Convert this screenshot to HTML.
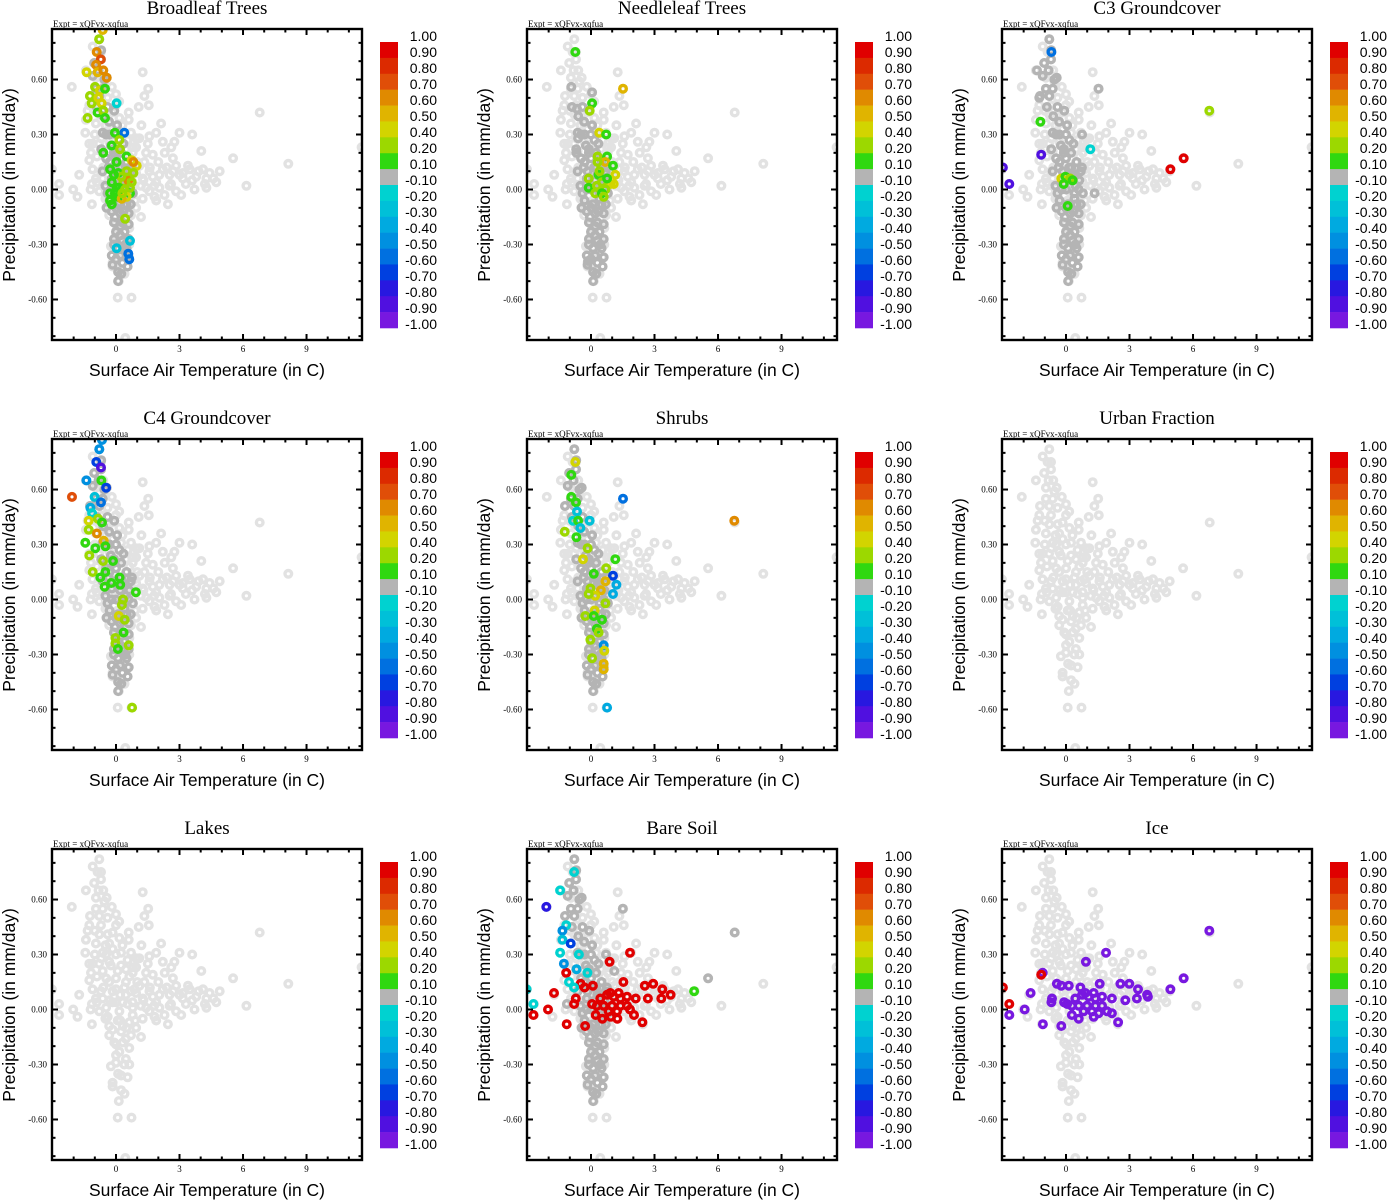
<!DOCTYPE html>
<html><head><meta charset="utf-8"><style>
html,body{margin:0;padding:0;background:#fff;}
svg{display:block;}
</style></head><body>
<svg id="chart" width="1388" height="1200" xmlns="http://www.w3.org/2000/svg"></svg>
<script>
const panelTitles = ["Broadleaf Trees","Needleleaf Trees","C3 Groundcover","C4 Groundcover","Shrubs","Urban Fraction","Lakes","Bare Soil","Ice"];
const xTicks = [0,3,6,9];
const yTicks = [0.6,0.3,0,-0.3,-0.6];
const yTickLabels = ["0.60","0.30","0.00","-0.30","-0.60"];
const cbLevels = [1,0.9,0.8,0.7,0.6,0.5,0.4,0.2,0.1,-0.1,-0.2,-0.3,-0.4,-0.5,-0.6,-0.7,-0.8,-0.9,-1];
const cbLabels = ["1.00","0.90","0.80","0.70","0.60","0.50","0.40","0.20","0.10","-0.10","-0.20","-0.30","-0.40","-0.50","-0.60","-0.70","-0.80","-0.90","-1.00"];
const cbColors = ["#e00000","#dc2a00","#e04e08","#e08a00","#e0b400","#d2d400","#9cd800","#30d810","#b4b4b4","#00d2d0","#00c0d8","#00aae0","#0090e0","#0070e0","#0040e0","#2818e0","#5010e0","#7818e0"];

// base cloud (all panels, light grey)
const baseT = [-0.79,-0.87,-0.71,-1.03,-0.71,-1.42,-0.82,-0.44,1.26,-2.09,-0.95,-0.63,1.52,-1.23,-0.79,0,1.34,-1.26,-0.71,0,1.07,1.55,-1.34,-1.42,-0.95,-0.32,2.13,-1.45,-0.63,0.24,0.71,1.58,1.9,3.0,3.6,-1.26,-0.32,0.55,0.95,2.21,2.76,2.61,4.03,-1.18,-0.63,0.08,0.79,1.42,-1.26,-1.11,-0.32,0.47,1.11,2.69,5.53,6.79,8.14,6.16,11.6,-3.03,-1.74,-2.69,-2.69,-2.02,-1.82,-1.14,-1.14,-0.71,-0.16,0.47,0.95,1.58,2.21,2.84,3.48,4.11,4.9,4.74,4.27,3.71,3.16,2.53,1.9,1.42,0.79,0,-0.47,0.16,0.79,1.26,1.82,2.45,2.84,3.08,-0.32,0.32,0.95,1.18,-0.32,0.47,0,0.63,0,0.47,-0.24,0.63,0.24,0.55,-0.16,-0.16,0.24,0.13,0.08,0.73,0.44,-0.47,0,-0.24,0.24,-0.47,0,0.63,-0.63,-0.16,0.32,0.79,1.26,1.74,2.05,-0.39,0.08,0.63,-0.16,0.24,0.71,-0.08,0.32,0.16,0.39,0,2.05,2.53,3.16,3.79,4.27,4.42,1.18,1.58,2.29,-0.95,-0.79,0,0.87,1.34,1.74,0.47,0.95,-0.16,-0.79,-0.39,-0.55,-0.95,-0.16,0.16,
 -1.0,-0.8,-0.9,-0.6,-0.3,0.4,0.7,1.0,1.3,1.6,2.0,2.4,2.7,3.0,3.3,3.6,3.9,4.2,0.2,0.5,0.9,-0.5,-0.9,-1.2,0.3,0.6,-0.4,-0.2,-1.0,-1.1,0.1,0.4,1.1,1.5,2.3,1.9,-0.6,-1.1,0.8,0.2,-0.5,0.6,1.2,1.8,2.6,3.4,4.6,-0.7,0.15,0.55];
const baseP = [0.82,0.75,0.75,0.69,0.71,0.65,0.65,0.61,0.64,0.56,0.55,0.55,0.55,0.51,0.51,0.52,0.51,0.46,0.46,0.46,0.45,0.46,0.43,0.38,0.36,0.36,0.36,0.31,0.31,0.31,0.31,0.29,0.31,0.31,0.30,0.25,0.26,0.27,0.28,0.26,0.26,0.23,0.21,0.20,0.21,0.21,0.20,0.20,0.16,0.11,0.15,0.15,0.13,0.17,0.17,0.42,0.14,0.02,0.23,0.11,0.08,0.03,-0.03,0.0,-0.04,0.03,-0.08,0.10,0.10,0.08,0.09,0.10,0.11,0.13,0.11,0.11,0.10,0.04,0.01,0.0,0.06,0.02,0.04,0.01,0.04,0.04,0.01,-0.01,-0.03,-0.05,-0.04,-0.08,-0.01,-0.03,-0.09,-0.09,-0.10,-0.15,-0.14,-0.16,-0.19,-0.21,-0.25,-0.27,-0.31,-0.30,-0.36,-0.37,-0.40,-0.42,-0.44,-0.50,-0.59,-0.59,-0.81,0.30,0.30,0.24,0.24,0.17,0.17,0.18,0.06,0.04,0.04,0.01,0.06,0.07,0.01,-0.04,-0.06,-0.07,-0.11,-0.12,-0.14,-0.18,-0.18,-0.23,-0.30,-0.29,0.08,0.08,0.09,0.07,0.06,0.09,0.02,-0.01,-0.03,0.06,-0.01,0.11,0.11,0.15,0.19,0.22,0.23,0.33,0.41,0.41,0.59,0.61,0.42,0.39,
 0.3,0.25,0.18,0.12,0.05,0.12,0.1,0.15,0.05,0.12,0.15,0.12,0.1,0.08,0.03,0.05,0.1,0.03,-0.06,-0.1,-0.06,-0.05,0.04,0.0,0.35,0.38,0.5,0.56,0.43,0.25,-0.35,-0.46,0.28,0.25,0.2,-0.06,0.65,0.78,0.23,0.08,0.35,0.42,0.35,0.02,0.03,0.13,0.06,0.28,0.48,0.03];

// dark-grey spine (value ~0) shared by vegetated panels
const spineHighT = [-0.79,-0.71,-1.03,-0.82,-0.44,-0.95,-0.63,-1.23,-0.79,-0.55,-1.1,-0.7];
const spineHighP = [0.82,0.71,0.69,0.65,0.61,0.55,0.55,0.51,0.51,0.6,0.62,0.76];
const spineLowT = [-0.08,-0.32,-0.63,-0.47,-0.24,0,0.16,-0.47,0,0.24,0.5,-0.63,-0.16,0.3,0.63,-0.5,0,0.4,0.8,-0.3,0.1,0.5,-0.2,0.2,0.6,-0.1,0.3,0.6,0,0.4,-0.1,0.3,0.6,0.1,0.5,-0.2,0.2,0.6,-0.16,0.3,0.1,0.55,0.1,-0.35,-0.1,0.25,0.45,0.7,-0.4,0.05,
 -0.4,-0.6,-0.3,-0.7,-0.3,0.2,-0.2,0.6,0.0,0.35,-0.1,0.2,0.45,0.25,-0.9,-0.1,0.35,-0.45,-0.2,0.15,0.45,0.75,-0.05,0.4,0.7,0.0,0.2];
const spineLowP = [0.43,0.37,0.31,0.30,0.24,0.30,0.27,0.17,0.17,0.20,0.15,0.10,0.10,0.08,0.05,0.02,0.0,-0.02,-0.02,-0.06,-0.08,-0.08,-0.12,-0.13,-0.13,-0.18,-0.18,-0.19,-0.23,-0.23,-0.27,-0.28,-0.27,-0.32,-0.32,-0.36,-0.36,-0.37,-0.41,-0.40,-0.45,-0.42,-0.50,0.12,0.22,0.12,0.02,0.10,-0.02,0.35,
 0.45,0.4,0.3,0.22,0.15,0.05,0.0,0.0,-0.1,-0.12,-0.3,-0.2,-0.3,-0.46,0.45,0.2,0.25,-0.1,0.06,0.12,0.08,0.12,-0.15,-0.05,-0.08,-0.38,-0.25];

// per-panel coloured values: [temperature, precipitation, correlation]
const broadleafPts = [[-0.63,0.87,0.55],[-0.8,0.82,0.3],[-0.91,0.75,0.65],[-0.72,0.71,0.75],[-0.94,0.68,0.65],[-1.39,0.64,0.45],[-0.87,0.64,0.55],[-0.6,0.65,0.65],[-0.44,0.61,0.65],[-0.99,0.56,0.25],[-0.76,0.54,0.45],[-0.52,0.55,0.15],[-1.23,0.51,0.25],[-1.15,0.47,0.25],[-0.83,0.5,0.45],[-0.68,0.47,0.45],[0.03,0.47,-0.15],[-0.87,0.42,0.15],[-0.6,0.43,0.25],[-1.34,0.39,0.25],[-0.52,0.39,0.15],[0.39,0.31,-0.55],[-0.05,0.31,0.15],[-0.2,0.24,0.15],[0.16,0.27,0.25],[0.19,0.22,0.25],[-0.6,0.2,0.15],[0.5,0.18,0.15],[0.03,0.15,0.15],[0.74,0.16,0.45],[0.98,0.13,0.45],[0.82,0.15,0.65],[-0.28,0.11,0.15],[0.11,0.09,0.15],[0.35,0.04,0.25],[0.58,0.05,0.65],[0.13,0.01,0.15],[0.03,0.01,0.15],[0.19,-0.01,0.15],[-0.05,-0.02,0.15],[0.43,0.0,0.25],[0.66,-0.02,0.15],[-0.28,-0.06,0.15],[0.11,-0.04,0.15],[0.66,0.01,0.25],[0.82,0.09,0.25],[0.74,0.04,0.25],[-0.2,0.04,0.15],[-0.28,-0.02,0.15],[0.5,-0.04,0.45],[0.27,-0.05,0.55],[-0.2,-0.08,0.15],[0.43,-0.16,0.25],[0.03,-0.32,-0.25],[0.66,-0.28,-0.25],[0.58,-0.35,-0.55],[0.63,-0.38,-0.6],[0.25,0.07,0.25],[0.5,0.1,0.25],[-0.1,0.08,0.15],[0.3,-0.02,0.25]];
const needleleafPts = [[-0.93,0.56,0],[0.05,0.53,0],[-0.66,0.44,0],[-0.61,0.28,0],[-0.69,0.2,0],[-0.14,-0.39,0],[-0.74,0.75,0.15],[1.51,0.55,0.55],[0.05,0.47,0.15],[-0.06,0.43,0.25],[0.39,0.31,0.45],[0.72,0.3,0.15],[0.31,0.18,0.25],[0.76,0.18,0.15],[0.68,0.15,0.5],[1.04,0.13,0.15],[0.31,0.15,0.25],[-0.11,0.06,0.25],[-0.11,0.01,0.15],[0.36,0.08,0.15],[1.15,0.08,0.45],[0.91,0.03,0.45],[1.07,0.03,0.45],[0.28,0.02,0.25],[0.52,0.04,0.25],[0.68,0.0,0.25],[0.2,-0.02,0.25],[0.52,-0.02,0.15],[0.76,0.06,0.15],[0.4,0.1,0.25],[0.6,-0.04,0.25]];
const c3Pts = [[1.54,0.55,0],[0.76,0.3,0],[1.35,-0.02,0],[-1.37,0.65,0],[-1.26,0.5,0],[-0.69,0.75,-0.55],[-1.21,0.37,0.15],[-1.17,0.19,-0.85],[-2.98,0.12,-0.85],[-2.68,0.03,-0.85],[1.15,0.22,-0.15],[4.93,0.11,0.95],[5.56,0.17,0.95],[6.77,0.43,0.25],[-0.22,0.06,0.45],[-0.03,0.07,0.15],[0.2,0.06,0.25],[-0.11,0.03,0.15],[0.31,0.05,0.15],[0.08,-0.09,0.15]];
const c4Pts = [[-0.66,0.87,-0.45],[-0.79,0.82,-0.45],[-0.93,0.75,-0.65],[-0.71,0.72,-0.85],[-1.4,0.65,-0.45],[-0.69,0.65,0.15],[-0.47,0.61,-0.65],[-2.08,0.56,0.75],[-1.01,0.56,-0.25],[-0.71,0.53,-0.55],[-1.21,0.5,-0.35],[-1.13,0.47,-0.15],[-1.29,0.43,0.45],[-0.85,0.44,0.25],[-0.66,0.42,0.15],[-1.29,0.38,0.25],[-0.9,0.36,0.6],[-0.58,0.32,0.5],[-1.45,0.31,0.15],[-0.98,0.28,0.15],[-0.5,0.29,0.15],[-1.26,0.24,0.25],[-0.61,0.21,0.25],[-0.14,0.21,0.15],[-1.1,0.15,0.25],[-0.74,0.12,0.15],[-0.5,0.15,0.15],[-0.22,0.09,0.15],[-0.54,0.07,0.15],[0.17,0.12,0.15],[0.2,0.08,0.15],[0.94,0.04,0.15],[0.33,0.0,0.25],[0.28,-0.03,0.25],[0.13,-0.09,0.45],[0.41,-0.11,0.25],[0.36,-0.18,0.15],[-0.03,-0.21,0.25],[-0.03,-0.24,0.25],[0.09,-0.27,0.15],[0.6,-0.25,0.25],[0.76,-0.59,0.25]];
const shrubsPts = [[-0.74,0.75,0.45],[-0.93,0.68,0.15],[1.51,0.55,-0.55],[-0.93,0.56,0.15],[-0.71,0.53,0.15],[-0.66,0.48,-0.25],[-0.85,0.43,-0.2],[-0.61,0.43,0.15],[-0.06,0.43,-0.25],[-0.5,0.39,-0.25],[-1.24,0.37,0.25],[-0.69,0.34,0.15],[-0.16,0.28,0.25],[-0.38,0.22,0.45],[1.15,0.22,0.15],[0.72,0.17,0.25],[1.04,0.13,-0.65],[0.13,0.14,0.15],[0.68,0.1,0.5],[1.2,0.08,-0.35],[0.47,0.05,0.55],[-0.03,0.06,0.25],[0.2,0.02,0.45],[-0.11,0.03,0.25],[1.04,0.03,-0.35],[0.68,-0.02,0.25],[0.17,-0.06,0.45],[-0.27,-0.09,0.25],[0.13,-0.09,0.15],[0.52,-0.11,0.15],[0.28,-0.16,0.15],[0.36,-0.18,0.25],[-0.03,-0.22,0.25],[0.6,-0.25,-0.45],[0.63,-0.28,0.45],[0.05,-0.32,0.25],[0.6,-0.35,0.5],[0.6,-0.38,0.5],[0.76,-0.59,-0.35],[6.77,0.43,0.6]];
const urbanPts = [];
const lakesPts = [];
const bareSoilPts = [[1.5,0.55,0],[6.79,0.42,0],[5.53,0.17,0],[1.1,0.21,0],[0.71,0.3,0],[-1.14,0.03,0],[1.84,0.31,0.95],[0.88,0.26,0.95],[-1.17,0.2,0.95],[-0.49,0.14,0.95],[-0.3,0.12,0.95],[0.09,0.13,0.95],[1.53,0.15,0.95],[2.54,0.13,0.95],[2.94,0.14,0.95],[3.37,0.11,0.95],[3.76,0.08,0.95],[3.32,0.06,0.95],[2.69,0.06,0.95],[2.11,0.06,0.95],[-1.75,0.09,0.95],[-0.72,0.06,0.95],[-0.8,0.03,0.95],[-2.03,0.0,0.95],[-2.72,-0.03,0.95],[-1.15,-0.08,0.95],[-0.28,-0.09,0.95],[0.22,-0.03,0.95],[0.54,-0.05,0.95],[0.93,-0.04,0.95],[1.24,-0.05,0.95],[1.84,0.0,0.95],[2.03,-0.03,0.95],[2.43,-0.07,0.95],[0.44,0.06,0.95],[0.76,0.08,0.95],[1.07,0.07,0.95],[1.39,0.06,0.95],[1.7,0.07,0.95],[0.6,0.02,0.95],[0.99,0.02,0.95],[1.39,0.02,0.95],[1.7,0.02,0.95],[0.83,-0.01,0.95],[1.23,-0.01,0.95],[0.28,0.02,0.95],[0.05,0.03,0.95],[0.91,0.09,0.95],[1.31,0.09,0.95],[-0.8,0.75,-0.15],[-1.46,0.65,-0.15],[-2.11,0.56,-0.75],[-1.17,0.46,-0.15],[-1.35,0.43,-0.5],[-1.35,0.38,-0.25],[-0.96,0.36,-0.7],[-1.46,0.31,-0.15],[-1.28,0.25,-0.45],[-0.57,0.3,-0.15],[-0.68,0.22,-0.35],[-1.04,0.15,-0.15],[-0.8,0.12,-0.15],[-3.04,0.11,-0.15],[-2.72,0.03,-0.15],[-0.17,0.2,-0.15],[4.87,0.1,0.15]];
const icePts = [[-1.1,0.2,-0.95],[-2.68,-0.03,-0.95],[-1.95,0.0,-0.95],[-1.67,0.09,-0.95],[-1.09,-0.08,-0.95],[-0.69,0.04,-0.95],[-0.66,0.06,-0.95],[-0.43,0.14,-0.95],[-0.22,0.13,-0.95],[0.13,0.13,-0.95],[-0.22,-0.09,-0.95],[-0.09,0.04,-0.95],[0.28,-0.03,-0.95],[0.68,0.12,-0.95],[0.94,0.26,-0.95],[1.89,0.31,-0.95],[1.59,0.14,-0.95],[0.6,-0.05,-0.95],[1.31,-0.04,-0.95],[1.54,-0.02,-0.95],[1.94,-0.01,-0.95],[2.17,-0.02,-0.95],[2.46,-0.07,-0.95],[2.17,0.06,-0.95],[2.8,0.05,-0.95],[2.57,0.14,-0.95],[2.99,0.14,-0.95],[3.4,0.11,-0.95],[3.35,0.06,-0.95],[3.83,0.08,-0.95],[3.87,0.07,-0.95],[4.93,0.11,-0.95],[5.56,0.17,-0.95],[6.77,0.43,-0.95],[0.44,0.06,-0.95],[0.76,0.08,-0.95],[1.07,0.07,-0.95],[1.39,0.06,-0.95],[1.7,0.07,-0.95],[0.6,0.02,-0.95],[0.99,0.02,-0.95],[1.39,0.02,-0.95],[1.7,0.02,-0.95],[0.83,-0.01,-0.95],[1.23,-0.01,-0.95],[0.28,0.02,-0.95],[0.05,0.03,-0.95],[0.91,0.09,-0.95],[1.31,0.09,-0.95],[-1.17,0.19,0.95],[-2.98,0.12,0.95],[-2.68,0.03,0.95]];

const panelPts = [broadleafPts,needleleafPts,c3Pts,c4Pts,shrubsPts,urbanPts,lakesPts,bareSoilPts,icePts];
const panelSpineHigh = [true,false,true,true,true,false,false,true,false];
const panelSpineLow = [true,true,true,true,true,false,false,true,false];

const NS = "http://www.w3.org/2000/svg";
const svg = document.getElementById("chart");
function mk(tag, attrs, parent){
  const e = document.createElementNS(NS, tag);
  for (const k in attrs) e.setAttribute(k, attrs[k]);
  (parent||svg).appendChild(e);
  return e;
}
const PL = 52, PT = 29, PW = 310, PH = 311;
const X0 = 64, XS = 21.17, Y0 = 160.5, YS = 183.3;
function sx(t){ return PL + X0 + t*XS; }
function sy(p){ return PT + Y0 - p*YS; }
function colorFor(v){
  for (let i=0;i<cbColors.length;i++){ if (v >= cbLevels[i+1]) return cbColors[i]; }
  return cbColors[cbColors.length-1];
}
const defs = mk("defs",{});
const cp = mk("clipPath",{id:"plotclip"},defs);
mk("rect",{x:PL,y:PT,width:PW,height:PH},cp);

function dot(g, t, p, col){
  const c = mk("circle",{cx:sx(t).toFixed(1),cy:sy(p).toFixed(1),r:3.3,fill:"none",stroke:col,"stroke-width":3.4},g);
  
  
}

for (let k=0;k<9;k++){
  const col = k%3, row = Math.floor(k/3);
  const g = mk("g",{transform:`translate(${col*475},${row*410})`});
  
  

  const title = mk("text",{x:PL+PW/2,y:14,"text-anchor":"middle","font-family":"Liberation Serif, serif","font-size":19},g);
  title.textContent = panelTitles[k];
  
  

  const ex = mk("text",{x:53,y:27,"font-family":"Liberation Serif, serif","font-size":9},g);
  ex.textContent = "Expt = xQFvx-xqfua";
  
  

  const pts = mk("g",{"clip-path":"url(#plotclip)"},g);
  
  
  for (let i=0;i<baseT.length;i++) dot(pts, baseT[i], baseP[i], "#e2e2e2");
  if (panelSpineHigh[k]) for (let i=0;i<spineHighT.length;i++) dot(pts, spineHighT[i], spineHighP[i], "#b4b4b4");
  if (panelSpineLow[k]) for (let i=0;i<spineLowT.length;i++) dot(pts, spineLowT[i], spineLowP[i], "#b4b4b4");
  const arr = panelPts[k];
  for (let i=0;i<arr.length;i++) dot(pts, arr[i][0], arr[i][1], colorFor(arr[i][2]));

  const fr = mk("rect",{x:PL,y:PT,width:PW,height:PH,fill:"none",stroke:"#000","stroke-width":2.4},g);
  
  

  for (let t=-3;t<=11;t++){
    const x = sx(t);
    if (x<PL+1||x>PL+PW-1) continue;
    const L = (t%3===0)?6:3.5;
    mk("line",{x1:x,y1:PT+PH,x2:x,y2:PT+PH-L,stroke:"#000","stroke-width":2},g);
    mk("line",{x1:x,y1:PT,x2:x,y2:PT+L,stroke:"#000","stroke-width":2},g);
  }
  for (let j=-8;j<=8;j++){
    const y = sy(j/10);
    if (y<PT+1||y>PT+PH-1) continue;
    const L = (j%3===0)?6:3.5;
    mk("line",{x1:PL,y1:y,x2:PL+L,y2:y,stroke:"#000","stroke-width":2},g);
    mk("line",{x1:PL+PW,y1:y,x2:PL+PW-L,y2:y,stroke:"#000","stroke-width":2},g);
  }
  xTicks.forEach(t=>{
    const tx = mk("text",{x:sx(t),y:PT+PH+12,"text-anchor":"middle","font-family":"Liberation Serif, serif","font-size":9},g);
    tx.textContent = String(t);
    
    
  });
  yTicks.forEach((p,i)=>{
    const ty = mk("text",{x:47,y:sy(p)+3,"text-anchor":"end","font-family":"Liberation Serif, serif","font-size":9},g);
    ty.textContent = yTickLabels[i];
    
    
  });

  const xl = mk("text",{x:PL+PW/2,y:376,"text-anchor":"middle","font-family":"Liberation Sans, sans-serif","font-size":17.5},g);
  xl.textContent = "Surface Air Temperature (in C)";
  
  
  const yl = mk("text",{x:0,y:0,"text-anchor":"middle","font-family":"Liberation Sans, sans-serif","font-size":17.5,transform:"translate(15,185) rotate(-90)"},g);
  yl.textContent = "Precipitation (in mm/day)";
  
  

  const cb = mk("g",{},g);
  
  
  const bh = (328-42)/cbColors.length;
  cbColors.forEach((c,i)=>{
    const r = mk("rect",{x:380,y:(42+i*bh).toFixed(2),width:18,height:(bh+0.3).toFixed(2),fill:c},cb);
    
    
  });
  cbLabels.forEach((s,i)=>{
    const tl = mk("text",{x:437,y:41+i*16,"text-anchor":"end","font-family":"Liberation Sans, sans-serif","font-size":14},cb);
    tl.textContent = s;
    
    
  });
}
</script>
</body></html>
